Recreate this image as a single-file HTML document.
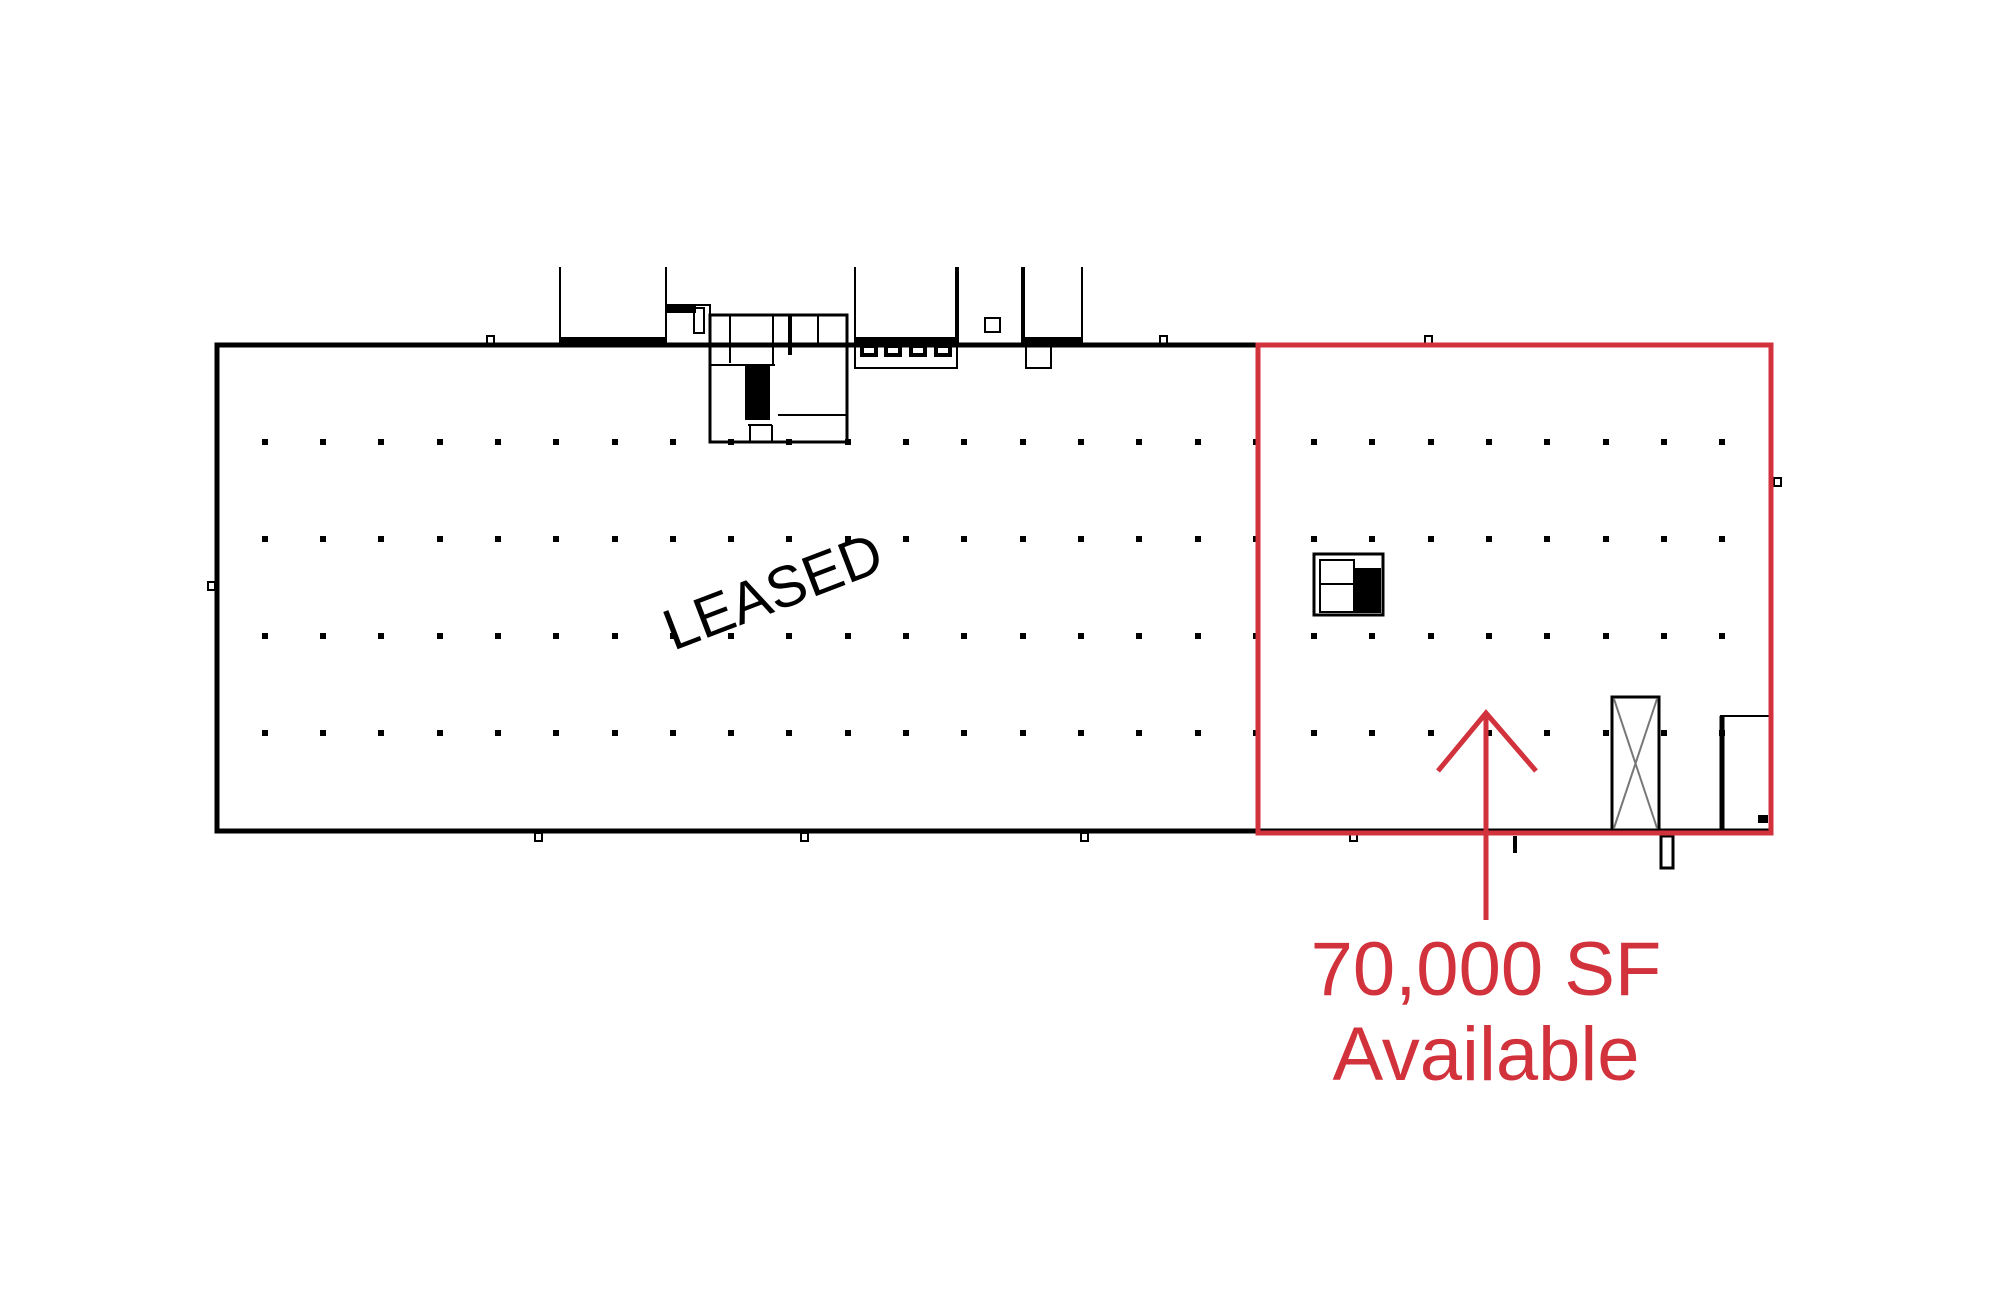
<!DOCTYPE html>
<html><head><meta charset="utf-8"><style>
html,body{margin:0;padding:0;background:#fff;}
svg{display:block;}
</style></head><body>
<svg width="2000" height="1301" viewBox="0 0 2000 1301" xmlns="http://www.w3.org/2000/svg">
<rect width="2000" height="1301" fill="#fff"/>
<g stroke="#000" fill="none">
  <rect x="217" y="345" width="1554" height="486" stroke-width="5"/>
  <line x1="560" y1="267" x2="560" y2="345" stroke-width="2"/>
  <line x1="666" y1="267" x2="666" y2="345" stroke-width="2"/>
  <line x1="855" y1="267" x2="855" y2="345" stroke-width="2"/>
  <line x1="957" y1="267" x2="957" y2="345" stroke-width="4"/>
  <line x1="1023" y1="267" x2="1023" y2="345" stroke-width="4"/>
  <line x1="1082" y1="267" x2="1082" y2="345" stroke-width="2"/>
  <rect x="560" y="337" width="106" height="8" fill="#000" stroke="none"/>
  <rect x="855" y="337" width="102" height="8" fill="#000" stroke="none"/>
  <rect x="1023" y="337" width="59" height="8" fill="#000" stroke="none"/>
  <rect x="855" y="345" width="102" height="23" stroke-width="2"/>
  <rect x="862" y="346" width="14" height="9" stroke-width="4"/>
  <rect x="886" y="346" width="14" height="9" stroke-width="4"/>
  <rect x="911" y="346" width="14" height="9" stroke-width="4"/>
  <rect x="936" y="346" width="14" height="9" stroke-width="4"/>
  <rect x="1026" y="345" width="25" height="23" stroke-width="2"/>
  <rect x="985" y="318" width="15" height="14" stroke-width="2"/>
  <rect x="666" y="305" width="44" height="40" stroke-width="2"/>
  <rect x="666" y="305" width="30" height="8" fill="#000" stroke="none"/>
  <rect x="694" y="308" width="10" height="25" stroke-width="2"/>
  <rect x="710" y="315" width="137" height="127" stroke-width="3"/>
  <line x1="730" y1="315" x2="730" y2="363" stroke-width="2"/>
  <line x1="710" y1="365" x2="775" y2="365" stroke-width="2"/>
  <line x1="773" y1="315" x2="773" y2="365" stroke-width="2"/>
  <line x1="790" y1="315" x2="790" y2="355" stroke-width="4"/>
  <line x1="818" y1="315" x2="818" y2="343" stroke-width="2"/>
  <rect x="745" y="365" width="25" height="55" fill="#000" stroke="none"/>
  <line x1="778" y1="415" x2="847" y2="415" stroke-width="2"/>
  <line x1="748" y1="425" x2="772" y2="425" stroke-width="2"/>
  <line x1="750" y1="425" x2="750" y2="442" stroke-width="2"/>
  <line x1="772" y1="425" x2="772" y2="442" stroke-width="2"/>
  <rect x="487" y="336" width="7" height="8" stroke-width="2"/>
  <rect x="1160" y="336" width="7" height="8" stroke-width="2"/>
  <rect x="1425" y="336" width="7" height="8" stroke-width="2"/>
  <rect x="208" y="582" width="7" height="8" stroke-width="2"/>
  <rect x="1774" y="478" width="7" height="8" stroke-width="2"/>
  <rect x="535" y="833" width="7" height="8" stroke-width="2"/>
  <rect x="801" y="833" width="7" height="8" stroke-width="2"/>
  <rect x="1081" y="833" width="7" height="8" stroke-width="2"/>
  <rect x="1350" y="833" width="7" height="8" stroke-width="2"/>
  <line x1="1515" y1="836" x2="1515" y2="853" stroke-width="4"/>
  <rect x="1661" y="836" width="12" height="32" stroke-width="3"/>
  <rect x="1314" y="554" width="69" height="61" stroke-width="3"/>
  <rect x="1355" y="568" width="26" height="45" fill="#000" stroke="none"/>
  <rect x="1320" y="560" width="34" height="52" stroke-width="2"/>
  <line x1="1320" y1="584" x2="1354" y2="584" stroke-width="2"/>
  <rect x="1612" y="697" width="47" height="133" stroke-width="3"/>
  <line x1="1614" y1="699" x2="1657" y2="828" stroke="#777" stroke-width="2"/>
  <line x1="1657" y1="699" x2="1614" y2="828" stroke="#777" stroke-width="2"/>
  <line x1="1720" y1="716" x2="1771" y2="716" stroke-width="2"/>
  <line x1="1722" y1="716" x2="1722" y2="831" stroke-width="5"/>
  <rect x="1758" y="815" width="10" height="8" fill="#000" stroke="none"/>
</g>
<g fill="#000">
  <g id="row">
    <rect x="262" y="439" width="6" height="6"/><rect x="320" y="439" width="6" height="6"/><rect x="378" y="439" width="6" height="6"/><rect x="437" y="439" width="6" height="6"/><rect x="495" y="439" width="6" height="6"/><rect x="553" y="439" width="6" height="6"/><rect x="612" y="439" width="6" height="6"/><rect x="670" y="439" width="6" height="6"/><rect x="728" y="439" width="6" height="6"/><rect x="786" y="439" width="6" height="6"/><rect x="845" y="439" width="6" height="6"/><rect x="903" y="439" width="6" height="6"/><rect x="961" y="439" width="6" height="6"/><rect x="1020" y="439" width="6" height="6"/><rect x="1078" y="439" width="6" height="6"/><rect x="1136" y="439" width="6" height="6"/><rect x="1195" y="439" width="6" height="6"/><rect x="1253" y="439" width="6" height="6"/><rect x="1311" y="439" width="6" height="6"/><rect x="1369" y="439" width="6" height="6"/><rect x="1428" y="439" width="6" height="6"/><rect x="1486" y="439" width="6" height="6"/><rect x="1544" y="439" width="6" height="6"/><rect x="1603" y="439" width="6" height="6"/><rect x="1661" y="439" width="6" height="6"/><rect x="1719" y="439" width="6" height="6"/>
  </g>
  <use href="#row" y="97"/>
  <use href="#row" y="194"/>
  <use href="#row" y="291"/>
</g>
<rect x="1258" y="345" width="513" height="488" fill="none" stroke="#d2323c" stroke-width="5"/>
<g stroke="#d2323c" stroke-width="5" fill="none">
  <line x1="1486" y1="712" x2="1486" y2="920"/>
  <polyline points="1438,771 1486,713 1536,771"/>
</g>
<text x="780" y="610" transform="rotate(-21 780 610)" text-anchor="middle" font-family="Liberation Sans, sans-serif" font-size="58" fill="#000">LEASED</text>
<text x="1486" y="995" text-anchor="middle" font-family="Liberation Sans, sans-serif" font-size="76" fill="#d2323c">70,000 SF</text>
<text x="1486" y="1080" text-anchor="middle" font-family="Liberation Sans, sans-serif" font-size="76" fill="#d2323c">Available</text>
</svg>
</body></html>
